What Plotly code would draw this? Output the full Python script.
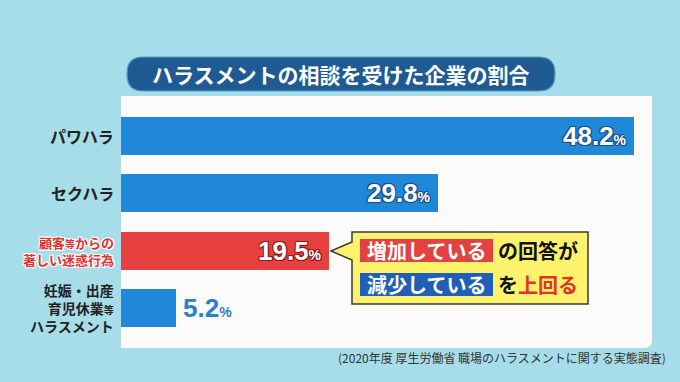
import plotly.graph_objects as go

categories = ["パワハラ", "セクハラ", "顧客等からの著しい迷惑行為", "妊娠・出産育児休業等ハラスメント"]
values = [48.2, 29.8, 19.5, 5.2]
bar_colors = ["#1f88d9", "#1f88d9", "#e5403f", "#1f88d9"]
label_texts = [
    "<b>パワハラ</b>",
    "<b>セクハラ</b>",
    "<b>顧客<span style='font-size:10px'>等</span>からの<br>著しい迷惑行為</b>",
    "<b>妊娠・出産<br>育児休業<span style='font-size:10px'>等</span><br>ハラスメント</b>",
]
title_text = "ハラスメントの相談を受けた企業の割合"
source_text = "(2020年度 厚生労働省 職場のハラスメントに関する実態調査)"

W, H = 680, 382
L, R, T, B = 121, 28, 96, 34
PW, PH = W - L - R, H - T - B

def X(px):
    return (px - L) / PW

def Y(py):
    return (H - B - py) / PH

FONT = "Noto Sans CJK JP"
NUMFONT = "Liberation Sans, Arial, sans-serif"
yvals = list(range(len(categories)))

fig = go.Figure()
fig.add_trace(go.Bar(
    x=values, y=yvals, orientation="h", marker=dict(color=bar_colors, line=dict(width=0)),
    width=0.663, hoverinfo="skip",
))

shapes = []
rx, ry = 8 / PW, 8 / PH
shapes.append(dict(type="path", xref="paper", yref="paper", layer="below",
                   path=f"M 0,1 L 1,1 L 1,{ry} Q 1,0 {1-rx},0 L 0,0 Z",
                   fillcolor="#fdfbfa", line=dict(width=0)))

def pill(x0, y0, x1, y1, r):
    return (f"M {X(x0+r)},{Y(y0)} L {X(x1-r)},{Y(y0)} Q {X(x1)},{Y(y0)} {X(x1)},{Y(y0+r)} "
            f"L {X(x1)},{Y(y1-r)} Q {X(x1)},{Y(y1)} {X(x1-r)},{Y(y1)} L {X(x0+r)},{Y(y1)} "
            f"Q {X(x0)},{Y(y1)} {X(x0)},{Y(y1-r)} L {X(x0)},{Y(y0+r)} Q {X(x0)},{Y(y0)} {X(x0+r)},{Y(y0)} Z")

shapes.append(dict(type="path", xref="paper", yref="paper", path=pill(127, 57, 555, 91, 16),
                   fillcolor="#1f5b92", line=dict(color="#5a9cd0", width=1.2)))

cb = (f"M {X(352)},{Y(232)} L {X(588)},{Y(232)} L {X(588)},{Y(304)} L {X(352)},{Y(304)} "
      f"L {X(352)},{Y(260)} L {X(331)},{Y(251)} L {X(352)},{Y(242)} Z")
shapes.append(dict(type="path", xref="paper", yref="paper", path=cb,
                   fillcolor="#fdf26c", line=dict(color="#3a3a3a", width=1.5)))
shapes.append(dict(type="rect", xref="paper", yref="paper", x0=X(360), x1=X(493), y0=Y(262), y1=Y(239),
                   fillcolor="#e24241", line=dict(width=0)))
shapes.append(dict(type="rect", xref="paper", yref="paper", x0=X(360), x1=X(493), y0=Y(296), y1=Y(273),
                   fillcolor="#1f5fb8", line=dict(width=0)))

def outline(c, w=1):
    return ", ".join(f"{dx}px {dy}px 0 {c}" for dx in (-w, 0, w) for dy in (-w, 0, w) if dx or dy)

ann = []
def A(**kw):
    kw.setdefault("showarrow", False)
    kw.setdefault("yanchor", "middle")
    kw.setdefault("xanchor", "center")
    ann.append(kw)

A(text=f"<b>{title_text}</b>", xref="paper", yref="paper", x=X(341), y=Y(74),
  font=dict(family=FONT, size=21, color="white"))

for i, (t, v) in enumerate(zip(label_texts, values)):
    if i == 2:
        f = dict(family=FONT, size=13, color="#e03232", shadow=outline("#ffffff", 1))
    elif i == 3:
        f = dict(family=FONT, size=14, color="#222222")
    else:
        f = dict(family=FONT, size=16, color="#222222")
    A(text=t, xref="paper", yref="y", x=X(116), y=i, xanchor="right", align="right", font=f)
    vt = f"<b>{v}<span style='font-size:14px'>%</span></b>"
    if v > 10:
        oc = "#8a1c1c" if i == 2 else "#1a4f8a"
        A(text=vt, xref="x", yref="y", x=v, y=i, xanchor="right", xshift=-5,
          font=dict(family=NUMFONT, size=26, color="white", shadow=outline(oc, 1)))
    else:
        A(text=vt, xref="x", yref="y", x=v, y=i, xanchor="left", xshift=5,
          font=dict(family=NUMFONT, size=26, color="#2a80cc"))

A(text="<b>増加している</b>", xref="paper", yref="paper", x=X(426.5), y=Y(250.5),
  font=dict(family=FONT, size=20, color="white"))
A(text="<b>の回答が</b>", xref="paper", yref="paper", x=X(496), y=Y(250.5), xanchor="left",
  font=dict(family=FONT, size=20, color="#111111"))
A(text="<b>減少している</b>", xref="paper", yref="paper", x=X(426.5), y=Y(284.5),
  font=dict(family=FONT, size=20, color="white"))
A(text="<b>を<span style='color:#e2332a'>上回る</span></b>", xref="paper", yref="paper",
  x=X(496), y=Y(284.5), xanchor="left", font=dict(family=FONT, size=20, color="#111111"))
A(text=source_text, xref="paper", yref="paper", x=X(668), y=Y(357), xanchor="right",
  font=dict(family=FONT, size=12, color="#333333"))

fig.update_layout(
    width=W, height=H, margin=dict(l=L, r=R, t=T, b=B, autoexpand=False),
    paper_bgcolor="#a6dde8", plot_bgcolor="rgba(0,0,0,0)",
    showlegend=False, bargap=0,
    xaxis=dict(range=[0, 49.9], visible=False, fixedrange=True),
    yaxis=dict(range=[3.698, -0.698], visible=False, fixedrange=True),
    shapes=shapes, annotations=ann,
)
fig.write_html("out.html", config={"displayModeBar": False},
               post_script="document.body.style.margin='0';document.body.style.overflow='hidden';")
